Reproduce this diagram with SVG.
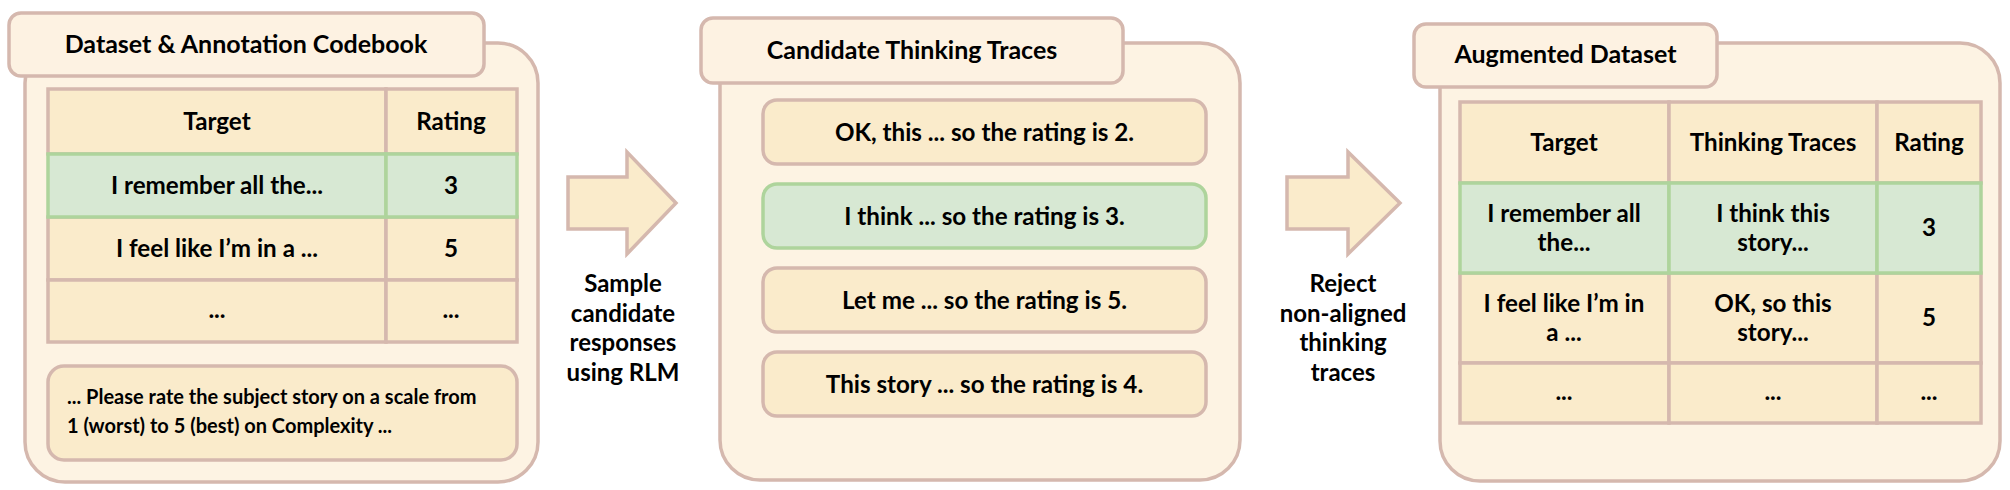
<svg xmlns="http://www.w3.org/2000/svg" width="2010" height="490" viewBox="0 0 2010 490">
<style>
.panel{fill:#fdf3e3;stroke:#d5b8ae;stroke-width:3.5}
.tab{fill:#fdf2e2;stroke:#d5b8ae;stroke-width:3.5}
.cell{fill:#faebcb;stroke:#d5b8ae;stroke-width:3.5}
.gcell{fill:#d7e8d3;stroke:#aed49c;stroke-width:3.5}
.box{fill:#faebcb;stroke:#d5b8ae;stroke-width:3.5}
.gbox{fill:#d7e8d3;stroke:#aed49c;stroke-width:3.5}
.arrow{fill:#faebcb;stroke:#d5b8ae;stroke-width:3.5;stroke-linejoin:miter}
text{font-family:Lato,"Liberation Sans",sans-serif;fill:#000}
.title{font-size:25px;font-weight:700;text-anchor:middle}
.t{font-size:24.2px;font-weight:700;text-anchor:middle}
.note{font-size:20px;font-weight:700}
.lbl{font-size:24px;font-weight:700;text-anchor:middle}
</style>

<g id="panel-dataset">
  <rect class="panel" x="25" y="43" width="513" height="439" rx="40"/>
  <rect class="tab" x="9" y="13" width="475" height="63" rx="12"/>
  <text class="title" x="246" y="53">Dataset &amp; Annotation Codebook</text>
  <g id="table-dataset">
    <rect class="cell" x="48" y="89" width="338" height="65"/>
    <rect class="cell" x="386" y="89" width="131" height="65"/>
    <rect class="cell" x="48" y="217" width="338" height="63"/>
    <rect class="cell" x="386" y="217" width="131" height="63"/>
    <rect class="cell" x="48" y="280" width="338" height="62"/>
    <rect class="cell" x="386" y="280" width="131" height="62"/>
    <rect class="gcell" x="48" y="154" width="338" height="63"/>
    <rect class="gcell" x="386" y="154" width="131" height="63"/>
    <text class="t" x="217" y="130">Target</text>
    <text class="t" x="451" y="130">Rating</text>
    <text class="t" x="217" y="194">I remember all the...</text>
    <text class="t" x="451" y="194">3</text>
    <text class="t" x="217" y="257">I feel like I’m in a ...</text>
    <text class="t" x="451" y="257">5</text>
    <text class="t" x="217" y="318">...</text>
    <text class="t" x="451" y="318">...</text>
  </g>
  <g id="codebook-note">
    <rect class="box" x="48" y="366" width="469" height="94" rx="16"/>
    <text class="note" x="67" y="404">... Please rate the subject story on a scale from</text>
    <text class="note" x="67" y="433">1 (worst) to 5 (best) on Complexity ...</text>
  </g>
</g>

<g id="panel-candidates">
  <rect class="panel" x="720" y="43" width="520" height="437" rx="40"/>
  <rect class="tab" x="701" y="18" width="422" height="65" rx="12"/>
  <text class="title" x="912" y="59">Candidate Thinking Traces</text>
  <g id="trace-1">
    <rect class="box" x="763" y="100" width="443" height="64" rx="14"/>
    <text class="t" x="984.5" y="141">OK, this ... so the rating is 2.</text>
  </g>
  <g id="trace-2">
    <rect class="gbox" x="763" y="184" width="443" height="64" rx="14"/>
    <text class="t" x="984.5" y="225">I think ... so the rating is 3.</text>
  </g>
  <g id="trace-3">
    <rect class="box" x="763" y="268" width="443" height="64" rx="14"/>
    <text class="t" x="984.5" y="309">Let me ... so the rating is 5.</text>
  </g>
  <g id="trace-4">
    <rect class="box" x="763" y="352" width="443" height="64" rx="14"/>
    <text class="t" x="984.5" y="393">This story ... so the rating is 4.</text>
  </g>
</g>

<g id="panel-augmented">
  <rect class="panel" x="1440" y="43" width="560" height="438" rx="40"/>
  <rect class="tab" x="1414" y="24" width="303" height="63" rx="12"/>
  <text class="title" x="1565.5" y="63">Augmented Dataset</text>
  <g id="table-augmented">
    <rect class="cell" x="1460" y="102" width="209" height="81"/>
    <rect class="cell" x="1669" y="102" width="208" height="81"/>
    <rect class="cell" x="1877" y="102" width="104" height="81"/>
    <rect class="cell" x="1460" y="273" width="209" height="90"/>
    <rect class="cell" x="1669" y="273" width="208" height="90"/>
    <rect class="cell" x="1877" y="273" width="104" height="90"/>
    <rect class="cell" x="1460" y="363" width="209" height="60"/>
    <rect class="cell" x="1669" y="363" width="208" height="60"/>
    <rect class="cell" x="1877" y="363" width="104" height="60"/>
    <rect class="gcell" x="1460" y="183" width="209" height="90"/>
    <rect class="gcell" x="1669" y="183" width="208" height="90"/>
    <rect class="gcell" x="1877" y="183" width="104" height="90"/>
    <text class="t" x="1564" y="151">Target</text>
    <text class="t" x="1773" y="151">Thinking Traces</text>
    <text class="t" x="1929" y="151">Rating</text>
    <text class="t" x="1564" y="222">I remember all</text>
    <text class="t" x="1564" y="251">the...</text>
    <text class="t" x="1773" y="222">I think this</text>
    <text class="t" x="1773" y="251">story...</text>
    <text class="t" x="1929" y="236">3</text>
    <text class="t" x="1564" y="312">I feel like I’m in</text>
    <text class="t" x="1564" y="341">a ...</text>
    <text class="t" x="1773" y="312">OK, so this</text>
    <text class="t" x="1773" y="341">story...</text>
    <text class="t" x="1929" y="326">5</text>
    <text class="t" x="1564" y="400">...</text>
    <text class="t" x="1773" y="400">...</text>
    <text class="t" x="1929" y="400">...</text>
  </g>
</g>

<g id="connectors">
  <g id="arrow-sample">
    <polygon class="arrow" points="568,177 627,177 627,152 676,203 627,254 627,229 568,229"/>
    <text class="lbl" x="623" y="292">Sample</text>
    <text class="lbl" x="623" y="322">candidate</text>
    <text class="lbl" x="623" y="351">responses</text>
    <text class="lbl" x="623" y="381">using RLM</text>
  </g>
  <g id="arrow-reject">
    <polygon class="arrow" points="1287,177 1348,177 1348,152 1400,203 1348,254 1348,229 1287,229"/>
    <text class="lbl" x="1343" y="292">Reject</text>
    <text class="lbl" x="1343" y="322">non-aligned</text>
    <text class="lbl" x="1343" y="351">thinking</text>
    <text class="lbl" x="1343" y="381">traces</text>
  </g>
</g>
</svg>
